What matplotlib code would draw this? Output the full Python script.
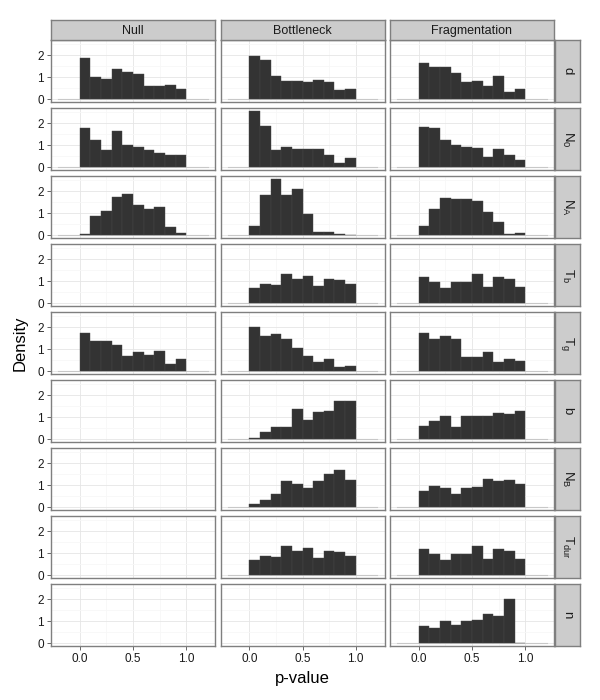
import numpy as np
import matplotlib
matplotlib.use('Agg')
import matplotlib.pyplot as plt
from matplotlib.patches import Rectangle

plt.rcParams['font.family'] = ['Liberation Sans', 'DejaVu Sans']
plt.rcParams['mathtext.fontset'] = 'custom'
plt.rcParams['mathtext.rm'] = 'Liberation Sans'
plt.rcParams['mathtext.it'] = 'Liberation Sans'

# histogram bins of p-values (width 0.1)
bin_left = np.arange(0.0, 1.0, 0.1)

models = ['Null', 'Bottleneck', 'Fragmentation']
params = ['d', 'N0', 'NA', 'Tb', 'Tg', 'b', 'NB', 'Tdur', 'n']
param_labels = ['d', r'$\mathregular{N_0}$', r'$\mathregular{N_A}$', r'$\mathregular{T_b}$',
                r'$\mathregular{T_g}$', 'b', r'$\mathregular{N_B}$', r'$\mathregular{T_{dur}}$', 'n']

# densities per bin, None = no data for that model
hist_d = {'Null':          [1.89, 1.00, 0.93, 1.40, 1.25, 1.14, 0.59, 0.59, 0.65, 0.48],
          'Bottleneck':    [1.95, 1.80, 1.08, 0.84, 0.84, 0.80, 0.90, 0.80, 0.42, 0.48],
          'Fragmentation': [1.65, 1.49, 1.49, 1.19, 0.80, 0.84, 0.59, 1.04, 0.33, 0.48]}
hist_N0 = {'Null':          [1.79, 1.24, 0.78, 1.64, 1.00, 0.94, 0.78, 0.64, 0.54, 0.54],
           'Bottleneck':    [2.55, 1.90, 0.78, 0.94, 0.84, 0.84, 0.84, 0.54, 0.22, 0.43],
           'Fragmentation': [1.85, 1.81, 1.24, 1.00, 0.94, 0.88, 0.49, 0.84, 0.54, 0.34]}
hist_NA = {'Null':          [0.06, 0.90, 1.11, 1.75, 1.87, 1.36, 1.21, 1.30, 0.40, 0.09],
           'Bottleneck':    [0.44, 1.82, 2.56, 1.82, 2.10, 0.96, 0.16, 0.16, 0.04, 0.00],
           'Fragmentation': [0.44, 1.21, 1.72, 1.66, 1.66, 1.56, 1.05, 0.61, 0.04, 0.10]}
hist_Tb = {'Null':          None,
           'Bottleneck':    [0.70, 0.90, 0.84, 1.35, 1.10, 1.24, 0.80, 1.10, 1.05, 0.90],
           'Fragmentation': [1.20, 0.99, 0.70, 0.99, 0.95, 1.35, 0.76, 1.20, 1.10, 0.76]}
hist_Tg = {'Null':          [1.73, 1.39, 1.39, 1.19, 0.69, 0.88, 0.73, 0.94, 0.33, 0.58],
           'Bottleneck':    [2.04, 1.60, 1.69, 1.45, 1.04, 0.69, 0.43, 0.54, 0.18, 0.24],
           'Fragmentation': [1.73, 1.49, 1.60, 1.45, 0.64, 0.64, 0.88, 0.43, 0.54, 0.48]}
hist_b = {'Null':          None,
          'Bottleneck':    [0.08, 0.33, 0.57, 0.57, 1.40, 0.89, 1.23, 1.29, 1.74, 1.74],
          'Fragmentation': [0.63, 0.84, 1.04, 0.57, 1.04, 1.04, 1.08, 1.19, 1.14, 1.29]}
hist_NB = {'Null':          None,
           'Bottleneck':    [0.15, 0.33, 0.62, 1.19, 1.04, 0.87, 1.19, 1.53, 1.69, 1.23],
           'Fragmentation': [0.73, 0.98, 0.87, 0.62, 0.87, 0.93, 1.29, 1.19, 1.23, 1.08]}
hist_Tdur = {'Null':          None,
             'Bottleneck':    [0.70, 0.90, 0.84, 1.35, 1.10, 1.24, 0.80, 1.10, 1.05, 0.90],
             'Fragmentation': [1.20, 0.99, 0.70, 0.99, 0.95, 1.35, 0.76, 1.20, 1.10, 0.76]}
hist_n = {'Null':          None,
          'Bottleneck':    None,
          'Fragmentation': [0.80, 0.70, 1.00, 0.84, 1.00, 1.05, 1.35, 1.26, 2.00, 0.00]}

rows = [hist_d, hist_N0, hist_NA, hist_Tb, hist_Tg, hist_b, hist_NB, hist_Tdur, hist_n]

W, H = 600, 700
fig = plt.figure(figsize=(6, 7), dpi=100)

# layout in pixels
left0, pw, hgap = 51, 164, 5.5
top0, ph, vgap = 40, 62, 6
strip_h, strip_w = 20, 25

def px(x, y, w, h):
    return [x / W, 1 - (y + h) / H, w / W, h / H]

border = '#7f7f7f'
for i, row in enumerate(rows):
    y = top0 + i * (ph + vgap)
    for j, m in enumerate(models):
        x = left0 + j * (pw + hgap)
        ax = fig.add_axes(px(x, y, pw, ph))
        ax.set_xlim(-0.27, 1.27)
        ax.set_ylim(-0.12, 2.70)
        ax.set_xticks([0, 0.5, 1.0])
        ax.set_xticks([0.25, 0.75], minor=True)
        ax.set_yticks([0, 1, 2])
        ax.set_yticks([0.5, 1.5, 2.5], minor=True)
        ax.grid(True, which='major', color='#e5e5e5', lw=0.6)
        ax.grid(True, which='minor', color='#f7f7f7', lw=0.6)
        ax.set_axisbelow(True)
        for s in ax.spines.values():
            s.set_color(border)
            s.set_linewidth(1.0)
        ax.tick_params(which='minor', length=0)
        ax.tick_params(which='major', length=3, color='#4d4d4d', width=0.6,
                       labelsize=8.5, labelcolor='#1a1a1a', pad=2)
        if j > 0:
            ax.tick_params(axis='y', length=0, labelleft=False)
        if i < len(rows) - 1:
            ax.tick_params(axis='x', length=0, labelbottom=False)
        else:
            ax.set_xticklabels(['0.0', '0.5', '1.0'])
        vals = row[m]
        if vals is not None:
            ax.plot([-0.2, 1.2], [0, 0], color='#c8c8c8', lw=0.8, zorder=2)
            ax.bar(bin_left, vals, width=0.1, align='edge', color='#333333',
                   edgecolor='#474747', linewidth=0.3, zorder=3)
        # column strips on top
        if i == 0:
            sax = fig.add_axes(px(x, top0 - strip_h, pw, strip_h))
            sax.set_xticks([]); sax.set_yticks([])
            sax.set_facecolor('#cccccc')
            for s in sax.spines.values():
                s.set_color(border)
                s.set_linewidth(1.0)
            sax.text(0.5, 0.45, m, ha='center', va='center', fontsize=9,
                     color='#1a1a1a', transform=sax.transAxes)
    # row strip on the right
    x = left0 + 3 * pw + 2 * hgap + 1
    rax = fig.add_axes(px(x, y, strip_w, ph))
    rax.set_xticks([]); rax.set_yticks([])
    rax.set_facecolor('#cccccc')
    for s in rax.spines.values():
        s.set_color(border)
        s.set_linewidth(1.0)
    rax.text(0.5, 0.5, param_labels[i], ha='center', va='center', fontsize=9.5,
             rotation=-90, color='#1a1a1a', transform=rax.transAxes)

bottom = top0 + 9 * ph + 8 * vgap
fig.text((left0 + (3 * pw + 2 * hgap) / 2) / W, 1 - (bottom + 32) / H, 'p-value',
         ha='center', va='center', fontsize=12)
fig.text(20 / W, 1 - (top0 + bottom) / 2 / H, 'Density', ha='center', va='center',
         rotation=90, fontsize=12)

fig.savefig('out.png', dpi=100, facecolor='white')
